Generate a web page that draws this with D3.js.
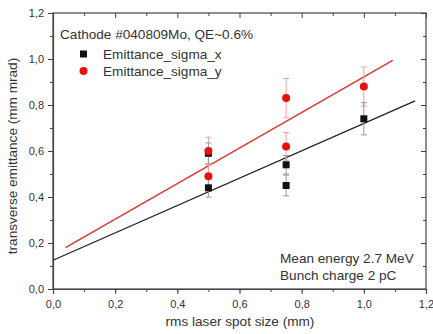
<!DOCTYPE html>
<html><head><meta charset="utf-8">
<script src="https://cdn.jsdelivr.net/npm/d3@7"></script>
<style>
html,body{margin:0;padding:0;background:#fff;}
svg{display:block;font-family:"Liberation Sans",Arial,sans-serif;}
</style></head>
<body><svg id="c" width="433" height="334"></svg>
<script>
const xValues   = [0.5, 0.5, 0.75, 0.75, 1.0];
const sigmaX    = [0.59, 0.44, 0.54, 0.45, 0.74];
const sigmaXErr = [0.045, 0.04, 0.04, 0.045, 0.07];
const sigmaY    = [0.60, 0.49, 0.83, 0.62, 0.88];
const sigmaYErr = [0.06, 0.05, 0.085, 0.06, 0.085];
const fitX = [[0.0, 0.125], [1.165, 0.818]];
const fitY = [[0.04, 0.180], [1.093, 0.994]];
const xTicks = [0, 0.2, 0.4, 0.6, 0.8, 1.0, 1.2];
const yTicks = [0, 0.2, 0.4, 0.6, 0.8, 1.0, 1.2];
const seriesNames = ["Emittance_sigma_x", "Emittance_sigma_y"];
const titleText = "Cathode #040809Mo, QE~0.6%";
const noteLines = ["Mean energy 2.7 MeV", "Bunch charge 2 pC"];
const xTitle = "rms laser spot size (mm)";
const yTitle = "transverse emittance (mm mrad)";

const svg = d3.select("#c");
const L = 53, R = 426, T = 13, B = 289;
const x = d3.scaleLinear().domain([0, 1.2]).range([L, R]);
const y = d3.scaleLinear().domain([0, 1.2]).range([B, T]);
const fmt = d => d3.format(".1f")(d).replace(".", ",");
const minor = d3.range(0, 1.21, 0.1);
const txtCol = "#333";
const fs = 13.6;

svg.append("rect").attr("x", L).attr("y", T).attr("width", R - L).attr("height", B - T)
  .attr("fill", "none").attr("stroke", "#444").attr("stroke-width", 1.2);

function styleAxis(g) {
  g.select(".domain").attr("stroke", "#444").attr("stroke-width", 1.2);
  g.selectAll(".tick line").attr("stroke", "#444");
  g.selectAll(".tick text").attr("fill", txtCol).attr("font-size", 11)
    .attr("font-family", '"Liberation Sans",Arial,sans-serif');
}
const gb = svg.append("g").attr("transform", `translate(0,${B})`)
  .call(d3.axisBottom(x).tickValues(xTicks).tickFormat(fmt).tickSize(5).tickPadding(6));
styleAxis(gb);
svg.append("g").attr("transform", `translate(0,${B})`)
  .call(d3.axisBottom(x).tickValues(minor).tickFormat("").tickSize(3))
  .call(g => { g.select(".domain").remove(); g.selectAll("line").attr("stroke", "#444"); });
const gl = svg.append("g").attr("transform", `translate(${L},0)`)
  .call(d3.axisLeft(y).tickValues(yTicks).tickFormat(fmt).tickSize(5).tickPadding(4));
styleAxis(gl);
svg.append("g").attr("transform", `translate(${L},0)`)
  .call(d3.axisLeft(y).tickValues(minor).tickFormat("").tickSize(3))
  .call(g => { g.select(".domain").remove(); g.selectAll("line").attr("stroke", "#444"); });
svg.append("g").attr("transform", `translate(0,${T})`)
  .call(d3.axisBottom(x).tickValues(minor).tickFormat("").tickSizeInner(0).tickSizeOuter(0))
  .call(g => { g.select(".domain").remove(); g.selectAll(".tick line").attr("y2", (d, i) => i % 2 ? 3 : 5).attr("stroke", "#444"); });
svg.append("g").attr("transform", `translate(${R},0)`)
  .call(d3.axisLeft(y).tickValues(minor).tickFormat("").tickSizeInner(0).tickSizeOuter(0))
  .call(g => { g.select(".domain").remove(); g.selectAll(".tick line").attr("x2", (d, i) => i % 2 ? -3 : -5).attr("stroke", "#444"); });

svg.append("text").attr("x", 240).attr("y", 326).attr("text-anchor", "middle")
  .attr("font-size", fs).attr("fill", txtCol).text(xTitle);
svg.append("text").attr("transform", `translate(17,${(T + B) / 2 + 5}) rotate(-90)`)
  .attr("text-anchor", "middle").attr("font-size", fs).attr("fill", txtCol).text(yTitle);

const line = d3.line().x(d => x(d[0])).y(d => y(d[1]));
svg.append("path").attr("d", line(fitX)).attr("stroke", "#222").attr("stroke-width", 1.3).attr("fill", "none");
svg.append("path").attr("d", line(fitY)).attr("stroke", "#e03030").attr("stroke-width", 1.3).attr("fill", "none");

function errBars(vals, errs, col) {
  const g = svg.append("g").attr("stroke", col).attr("stroke-width", 1);
  xValues.forEach((xv, i) => {
    const cx = x(xv), y1 = y(vals[i] - errs[i]), y2 = y(vals[i] + errs[i]);
    g.append("line").attr("x1", cx).attr("x2", cx).attr("y1", y1).attr("y2", y2);
    g.append("line").attr("x1", cx - 3).attr("x2", cx + 3).attr("y1", y1).attr("y2", y1);
    g.append("line").attr("x1", cx - 3).attr("x2", cx + 3).attr("y1", y2).attr("y2", y2);
  });
}
errBars(sigmaY, sigmaYErr, "#f0a0a0");
errBars(sigmaX, sigmaXErr, "#999");

svg.append("g").selectAll("rect").data(xValues).join("rect")
  .attr("x", (d, i) => x(d) - 3.5).attr("y", (d, i) => y(sigmaX[i]) - 3.5)
  .attr("width", 7).attr("height", 7).attr("fill", "#111");
svg.append("g").selectAll("circle").data(xValues).join("circle")
  .attr("cx", d => x(d)).attr("cy", (d, i) => y(sigmaY[i])).attr("r", 4).attr("fill", "#e81010");

svg.append("text").attr("x", 60).attr("y", 39).attr("font-size", fs).attr("fill", txtCol).text(titleText);
svg.append("rect").attr("x", 80).attr("y", 50.5).attr("width", 7).attr("height", 7).attr("fill", "#111");
svg.append("text").attr("x", 103).attr("y", 59).attr("font-size", fs).attr("fill", txtCol).text(seriesNames[0]);
svg.append("circle").attr("cx", 83.5).attr("cy", 71).attr("r", 4).attr("fill", "#e81010");
svg.append("text").attr("x", 103).attr("y", 76).attr("font-size", fs).attr("fill", txtCol).text(seriesNames[1]);

noteLines.forEach((t, i) => {
  svg.append("text").attr("x", 280).attr("y", 263 + i * 17).attr("font-size", fs).attr("fill", txtCol).text(t);
});
</script></body></html>
